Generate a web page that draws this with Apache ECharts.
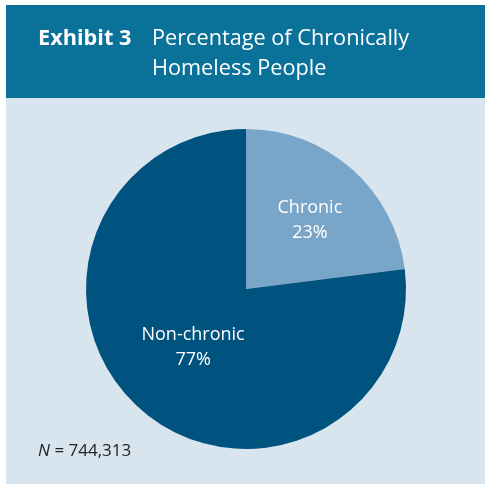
<!DOCTYPE html>
<html><head><meta charset="utf-8">
<script src="https://cdn.jsdelivr.net/npm/echarts@6/dist/echarts.min.js"></script>
<style>html,body{margin:0;padding:0;background:#fff}#c{width:485px;height:484px}</style>
</head><body><div id="c"></div>
<script>
const categories = ['Chronic', 'Non-chronic'];
const percents = [23, 77];
const sampleSize = '744,313';
const titleLead = 'Exhibit 3';
const titleText = 'Percentage of Chronically\nHomeless People';

const FONT = '"Open Sans", sans-serif';
const chart = echarts.init(document.getElementById('c'), null, {renderer: 'canvas'});
chart.setOption({
  backgroundColor: '#ffffff',
  animation: false,
  graphic: [
    {type: 'rect', left: 6, top: 5, shape: {width: 479, height: 93}, style: {fill: '#0a7199'}, z: 0},
    {type: 'rect', left: 6, top: 98, shape: {width: 479, height: 386}, style: {fill: '#d8e4ee'}, z: 0},
    {type: 'text', left: 38, top: 443, z: 10,
     style: {text: '{i|N} = ' + sampleSize, fill: '#222', font: '17px ' + FONT,
       rich: {i: {fontStyle: 'italic', fontSize: 17, fontFamily: FONT, fill: '#222'}}}}
  ],
  title: [
    {text: titleLead, left: 38, top: 24, padding: 0, textStyle: {color: '#fff', fontWeight: 'bold', fontSize: 21.7, fontFamily: FONT, lineHeight: 30}},
    {text: titleText, left: 152, top: 24, padding: 0, textStyle: {color: '#fff', fontWeight: 500, fontSize: 21.7, fontFamily: FONT, lineHeight: 30}}
  ],
  series: [{
    type: 'pie',
    center: [246, 289],
    radius: 160,
    startAngle: 90,
    clockwise: true,
    silent: true,
    labelLine: {show: false},
    label: {position: 'inside', color: '#fff', fontSize: 18, fontFamily: FONT, lineHeight: 25,
      formatter: p => p.name + '\n' + p.value + '%'},
    itemStyle: {borderWidth: 0},
    data: [
      {name: categories[0], value: percents[0], itemStyle: {color: '#79a6c8'}, label: {offset: [9, -6]}},
      {name: categories[1], value: percents[1], itemStyle: {color: '#00537f'}, label: {offset: [2, -4]}}
    ]
  }]
});
</script></body></html>
